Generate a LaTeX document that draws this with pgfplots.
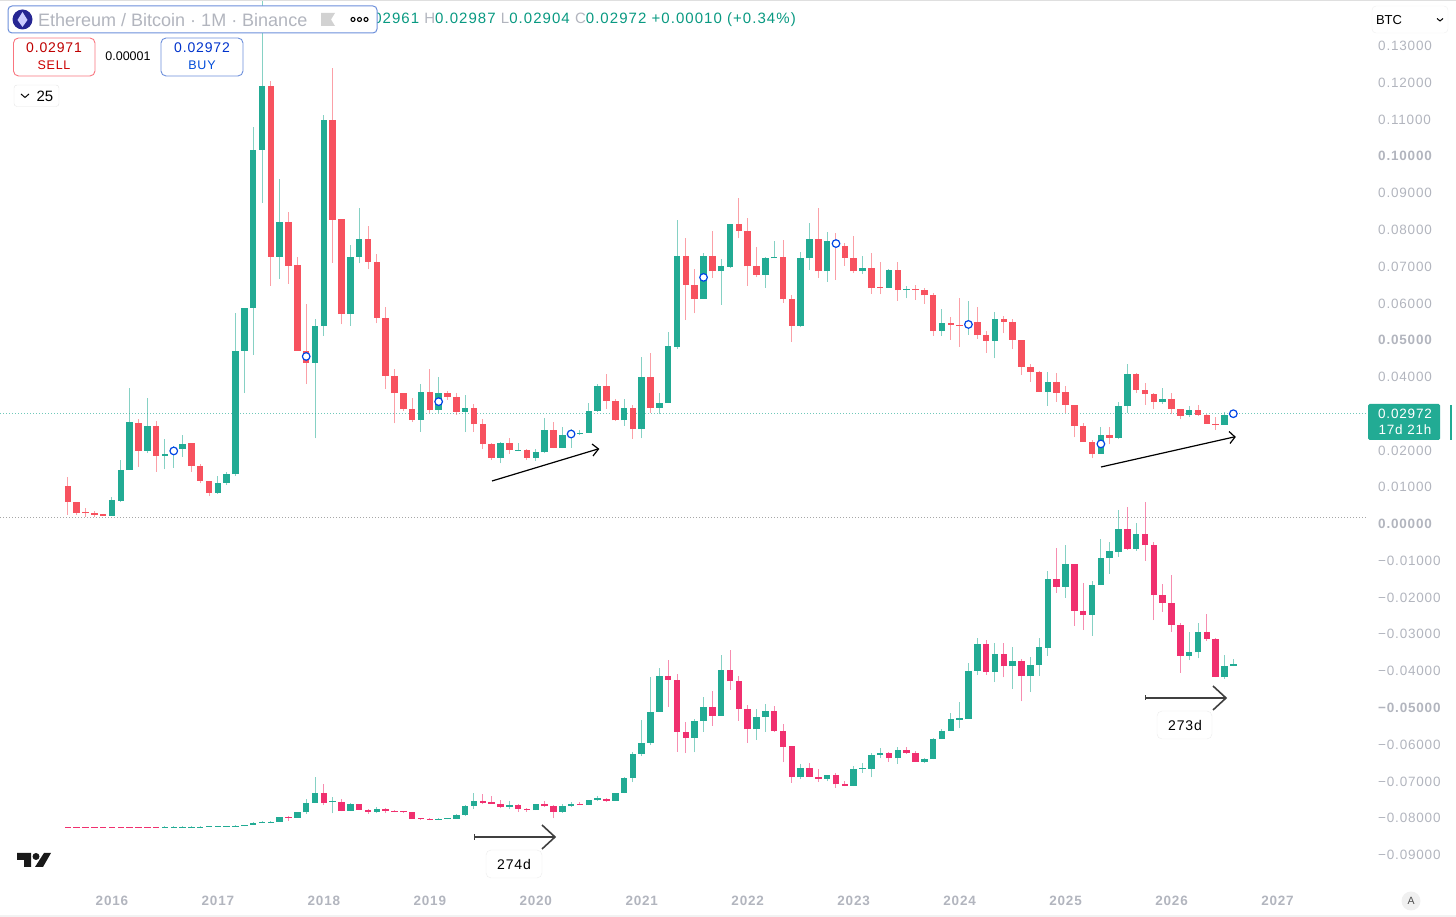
\documentclass[border=0pt]{standalone}
\usepackage{pgfplots}
\usepackage{pgfplotstable}
\usepackage{fontspec}
\pgfplotsset{compat=1.18}
\setmainfont{Liberation Sans}
\newfontfamily\spaced[LetterSpace=6]{Liberation Sans}
\newfontfamily\hdrspaced[LetterSpace=7]{Liberation Sans}
\definecolor{tvgreen}{HTML}{22AB94}
\definecolor{tvred}{HTML}{F7525F}
\definecolor{tvpink}{HTML}{F0306F}
\definecolor{tvgray}{HTML}{B2B5BE}
\definecolor{tvblue}{HTML}{2451C8}
\definecolor{hdrgreen}{HTML}{089981}
\definecolor{boxblue}{HTML}{6C8FDB}
% x = month index (0 = Aug 2015), top/bot = candle body, hi/lo = wick
\pgfplotstableread{
x top bot hi lo
5 .0063 .0020 .0072 .0020
6 .0144 .0061 .0171 .0057
7 .0274 .0144 .0366 .0144
9 .0265 .0197 .0339 .0190
11 .0188 .0183 .0228 .0146
12 .0196 .0190 .0209 .0150
13 .0216 .0202 .0239 .0180
17 .0110 .0082 .0128 .0079
18 .0133 .0110 .0139 .0103
19 .0468 .0133 .0572 .0128
20 .0584 .0468 .0584 .0353
21 .1015 .0586 .1078 .0457
22 .1189 .1015 .1567 .0870
24 .0818 .0724 .0936 .0663
28 .0536 .0436 .0554 .0230
29 .1095 .0536 .1110 .0509
32 .0724 .0568 .0756 .0537
33 .0772 .0724 .0858 .0706
40 .0356 .0281 .0377 .0248
42 .0353 .0307 .0398 .0300
45 .0312 .0303 .0348 .0247
49 .0218 .0177 .0220 .0162
51 .0199 .0197 .0217 .0195
53 .0192 .0177 .0200 .0169
54 .0254 .0192 .0285 .0190
56 .0239 .0205 .0260 .0203
57 .0244 .0239 .0256 .0205
58 .0246 .0244 .0253 .0240
59 .0305 .0246 .0327 .0245
60 .0373 .0305 .0378 .0303
63 .0312 .0279 .0336 .0264
65 .0396 .0255 .0451 .0230
67 .0326 .0314 .0353 .0296
68 .0481 .0326 .0519 .0326
69 .0726 .0480 .0824 .0474
72 .0727 .0609 .0734 .0609
74 .0698 .0684 .0718 .0593
75 .0813 .0697 .0813 .0693
79 .0720 .0675 .0724 .0640
80 .0724 .0720 .0767 .0720
83 .0720 .0537 .0738 .0532
84 .0773 .0720 .0817 .0688
86 .0767 .0684 .0792 .0656
90 .0693 .0684 .0726 .0677
93 .0688 .0640 .0691 .0640
95 .0636 .0635 .0645 .0611
99 .0543 .0523 .0582 .0509
102 .0547 .0536 .0605 .0512
105 .0556 .0496 .0573 .0448
111 .0383 .0356 .0410 .0319
117 .0239 .0188 .0260 .0188
119 .0319 .0232 .0330 .0228
120 .0405 .0319 .0432 .0298
124 .0337 .0329 .0368 .0323
127 .0307 .0294 .0318 .0288
131 .0295 .0267 .0302 .0267
132 .02972 .02961 .02987 .02904
}\upperUp
\pgfplotstableread{
x top bot hi lo
0 .0101 .0058 .0126 .0022
1 .0058 .0028 .0058 .0022
2 .0030 .0026 .0041 .0017
3 .0026 .0022 .0033 .0017
4 .0024 .0020 .0024 .0019
8 .0273 .0197 .0283 .0153
10 .0265 .0183 .0278 .0140
14 .0217 .0156 .0218 .0140
15 .0156 .0115 .0160 .0108
16 .0114 .0082 .0114 .0074
23 .1189 .0724 .1203 .0645
25 .0818 .0700 .0845 .0650
26 .0701 .0469 .0723 .0469
27 .0469 .0436 .0595 .0378
30 .1095 .0825 .1237 .0708
31 .0827 .0568 .0827 .0540
34 .0772 .0711 .0809 .0690
35 .0711 .0558 .0732 .0543
36 .0558 .0401 .0588 .0364
37 .0400 .0353 .0418 .0271
38 .0353 .0310 .0353 .0305
39 .0310 .0280 .0339 .0274
41 .0356 .0307 .0418 .0298
43 .0353 .0344 .0360 .0335
44 .0344 .0302 .0353 .0294
46 .0312 .0269 .0324 .0248
47 .0269 .0215 .0283 .0201
48 .0216 .0177 .0218 .0171
50 .0218 .0199 .0230 .0188
52 .0199 .0177 .0201 .0171
55 .0254 .0205 .0276 .0203
61 .0373 .0333 .0405 .0310
62 .0333 .0279 .0337 .0277
64 .0312 .0255 .0321 .0228
66 .0396 .0314 .0462 .0298
70 .0726 .0648 .0776 .0552
71 .0648 .0609 .0691 .0570
73 .0727 .0684 .0794 .0666
76 .0813 .0795 .0885 .0774
77 .0794 .0698 .0829 .0645
78 .0698 .0675 .0750 .0668
81 .0724 .0609 .0770 .0599
82 .0609 .0537 .0620 .0492
85 .0773 .0684 .0856 .0667
87 .0767 .0753 .0788 .0661
88 .0753 .0722 .0761 .0699
89 .0722 .0684 .0781 .0679
91 .0693 .0640 .0735 .0623
92 .0641 .0639 .0709 .0622
94 .0687 .0633 .0710 .0605
96 .0636 .0635 .0647 .0607
97 .0634 .0619 .0638 .0596
98 .0620 .0523 .0625 .0509
100 .0543 .0539 .0561 .0498
101 .0539 .0536 .0611 .0480
103 .0546 .0511 .0588 .0501
104 .0511 .0496 .0523 .0463
106 .0556 .0548 .0564 .0516
107 .0547 .0499 .0554 .0472
108 .0499 .0425 .0499 .0402
109 .0425 .0410 .0432 .0384
110 .0410 .0356 .0413 .0356
112 .0383 .0354 .0407 .0330
113 .0356 .0321 .0373 .0300
114 .0321 .0264 .0321 .0233
115 .0264 .0220 .0273 .0220
116 .0220 .0188 .0226 .0176
118 .0239 .0232 .0262 .0214
121 .0405 .0362 .0409 .0353
122 .0362 .0350 .0382 .0321
123 .0350 .0330 .0354 .0309
125 .0337 .0310 .0353 .0296
126 .0309 .0292 .0310 .0282
128 .0307 .0295 .0321 .0292
129 .0295 .0270 .0296 .0269
130 .0270 .0267 .0289 .0253
}\upperDown
\pgfplotstableread{
x top bot hi lo
11 -.0826 -.0828 -.0825 -.0829
12 -.0826 -.0828 -.0825 -.0829
13 -.0826 -.0828 -.0825 -.0829
14 -.0826 -.0828 -.0825 -.0829
15 -.0826 -.0828 -.0825 -.0829
16 -.0824 -.0826 -.0823 -.0827
17 -.0824 -.0826 -.0823 -.0827
18 -.0824 -.0826 -.0823 -.0827
19 -.0823 -.0825 -.0822 -.0826
20 -.0822 -.0824 -.0821 -.0825
21 -.0815 -.0821 -.0814 -.0822
22 -.0813 -.0814 -.0810 -.0816
23 -.0812 -.0814 -.0810 -.0817
24 -.0799 -.0812 -.0799 -.0812
26 -.0787 -.0802 -.0787 -.0802
27 -.0761 -.0787 -.0751 -.0792
28 -.0733 -.0761 -.0692 -.0762
30 -.0757 -.0759 -.0746 -.0790
32 -.0765 -.0783 -.0762 -.0784
35 -.0779 -.0786 -.0772 -.0789
42 -.0805 -.0807 -.0802 -.0808
43 -.0803 -.0805 -.0802 -.0806
44 -.0794 -.0804 -.0792 -.0805
45 -.0770 -.0794 -.0768 -.0796
46 -.0755 -.0770 -.0733 -.0779
50 -.0768 -.0772 -.0756 -.0779
53 -.0765 -.0781 -.0764 -.0781
56 -.0770 -.0786 -.0764 -.0788
57 -.0764 -.0770 -.0760 -.0772
59 -.0752 -.0767 -.0752 -.0768
60 -.0749 -.0752 -.0743 -.0756
62 -.0735 -.0755 -.0734 -.0756
63 -.0694 -.0734 -.0692 -.0735
64 -.0628 -.0693 -.0624 -.0705
65 -.0598 -.0628 -.0536 -.0635
66 -.0513 -.0598 -.0418 -.0604
67 -.0416 -.0513 -.0395 -.0513
71 -.0539 -.0585 -.0534 -.0624
72 -.0500 -.0539 -.0474 -.0568
74 -.0401 -.0524 -.0359 -.0524
78 -.0528 -.0561 -.0507 -.0590
79 -.0511 -.0528 -.0493 -.0568
83 -.0667 -.0692 -.0656 -.0697
86 -.0685 -.0696 -.0684 -.0703
89 -.0669 -.0715 -.0661 -.0716
90 -.0667 -.0669 -.0654 -.0679
91 -.0631 -.0668 -.0626 -.0692
92 -.0626 -.0631 -.0613 -.0640
94 -.0617 -.0640 -.0608 -.0656
97 -.0643 -.0649 -.0640 -.0652
98 -.0588 -.0642 -.0584 -.0643
99 -.0566 -.0588 -.0560 -.0588
100 -.0534 -.0566 -.0518 -.0567
101 -.0531 -.0535 -.0488 -.0558
102 -.0402 -.0532 -.0380 -.0533
103 -.0329 -.0402 -.0312 -.0413
105 -.0356 -.0404 -.0326 -.0433
107 -.0375 -.0390 -.0336 -.0452
109 -.0386 -.0417 -.0364 -.0460
110 -.0338 -.0386 -.0314 -.0415
111 -.0152 -.0339 -.0131 -.0361
113 -.0112 -.0173 -.0060 -.0203
116 -.0169 -.0250 -.0158 -.0307
117 -.0096 -.0169 -.0044 -.0169
118 -.0076 -.0096 -.0052 -.0138
119 -.0017 -.0078 .0035 -.0092
121 -.0029 -.0071 -.0001 -.0076
127 -.0352 -.0361 -.0297 -.0373
128 -.0296 -.0352 -.0273 -.0368
131 -.0390 -.0419 -.0359 -.0424
132 -.0384 -.0389 -.0371 -.0390
}\lowerUp
\pgfplotstableread{
x top bot hi lo
0 -.0827 -.0829 -.0826 -.0830
1 -.0827 -.0829 -.0826 -.0830
2 -.0827 -.0829 -.0826 -.0830
3 -.0827 -.0829 -.0826 -.0830
4 -.0827 -.0829 -.0826 -.0830
5 -.0827 -.0829 -.0826 -.0830
6 -.0827 -.0829 -.0826 -.0830
7 -.0827 -.0829 -.0826 -.0830
8 -.0827 -.0829 -.0826 -.0830
9 -.0827 -.0829 -.0826 -.0830
10 -.0827 -.0829 -.0826 -.0830
25 -.0799 -.0802 -.0797 -.0810
29 -.0733 -.0761 -.0711 -.0767
31 -.0759 -.0783 -.0750 -.0784
33 -.0765 -.0780 -.0764 -.0781
34 -.0780 -.0785 -.0777 -.0791
36 -.0778 -.0783 -.0776 -.0788
37 -.0783 -.0784 -.0780 -.0787
38 -.0784 -.0786 -.0783 -.0788
39 -.0786 -.0804 -.0785 -.0805
40 -.0803 -.0805 -.0802 -.0807
41 -.0805 -.0807 -.0803 -.0808
47 -.0755 -.0761 -.0737 -.0765
48 -.0760 -.0764 -.0743 -.0764
49 -.0764 -.0773 -.0753 -.0776
51 -.0767 -.0778 -.0765 -.0785
52 -.0778 -.0781 -.0774 -.0785
54 -.0765 -.0771 -.0756 -.0772
55 -.0770 -.0786 -.0767 -.0803
58 -.0764 -.0767 -.0758 -.0768
61 -.0750 -.0755 -.0747 -.0759
68 -.0416 -.0426 -.0373 -.0500
69 -.0426 -.0568 -.0411 -.0622
70 -.0569 -.0585 -.0540 -.0626
73 -.0500 -.0524 -.0457 -.0551
75 -.0401 -.0431 -.0345 -.0454
76 -.0431 -.0506 -.0415 -.0538
77 -.0507 -.0561 -.0494 -.0598
80 -.0511 -.0566 -.0498 -.0568
81 -.0566 -.0608 -.0548 -.0651
82 -.0607 -.0691 -.0607 -.0706
84 -.0667 -.0690 -.0654 -.0692
85 -.0690 -.0696 -.0670 -.0704
87 -.0686 -.0711 -.0679 -.0720
88 -.0710 -.0715 -.0701 -.0716
93 -.0626 -.0640 -.0622 -.0649
95 -.0617 -.0626 -.0608 -.0627
96 -.0626 -.0649 -.0619 -.0650
104 -.0329 -.0404 -.0318 -.0413
106 -.0356 -.0390 -.0326 -.0420
108 -.0375 -.0417 -.0371 -.0485
112 -.0152 -.0173 -.0069 -.0190
114 -.0112 -.0239 -.0112 -.0280
115 -.0239 -.0250 -.0162 -.0291
120 -.0017 -.0071 .0043 -.0073
122 -.0029 -.0060 .0056 -.0103
123 -.0060 -.0196 -.0051 -.0264
124 -.0196 -.0217 -.0166 -.0241
125 -.0217 -.0277 -.0141 -.0297
126 -.0277 -.0361 -.0273 -.0407
129 -.0296 -.0315 -.0248 -.0321
130 -.0315 -.0419 -.0313 -.0420
}\lowerDown
\newcommand{\candles}[2]{%
  \addplot[draw=none, mark=none, forget plot, error bars/.cd, y dir=plus, y explicit, error mark=none,
    error bar style={draw=#2, line width=1pt, opacity=.55}]
    table[x=x, y=lo, y error plus expr=\thisrow{hi}-\thisrow{lo}] {#1};
  \addplot[draw=none, mark=none, forget plot, error bars/.cd, y dir=plus, y explicit, error mark=none,
    error bar style={draw=#2, line width=6.5pt}]
    table[x=x, y=bot, y error plus expr=\thisrow{top}-\thisrow{bot}] {#1};
}
\begin{document}
\begin{tikzpicture}[x=1pt,y=1pt]
\useasboundingbox (0,0) rectangle (1456,917);
\begin{axis}[
  at={(0pt,32pt)}, anchor=south west,
  scale only axis, width=1368pt, height=885pt,
  xmin=-7.678, xmax=147.25, ymin=-0.09845, ymax=0.14224,
  axis line style={draw=none}, tick style={draw=none},
  axis y line*=right, axis x line*=bottom,
  xtick={5,17,29,41,53,65,77,89,101,113,125,137},
  xticklabels={2016,2017,2018,2019,2020,2021,2022,2023,2024,2025,2026,2027},
  xticklabel style={font=\spaced\bfseries\fontsize{13.5}{14}\selectfont, text=tvgray, yshift=-7.5pt},
  ytick={-0.09,-0.08,-0.07,-0.06,-0.05,-0.04,-0.03,-0.02,-0.01,0,0.01,0.02,0.04,0.05,0.06,0.07,0.08,0.09,0.10,0.11,0.12,0.13},
  yticklabels={−0.09000,−0.08000,−0.07000,−0.06000,{\bfseries −0.05000},−0.04000,−0.03000,−0.02000,−0.01000,{\bfseries 0.00000},0.01000,0.02000,0.04000,{\bfseries 0.05000},0.06000,0.07000,0.08000,0.09000,{\bfseries 0.10000},0.11000,0.12000,0.13000},
  yticklabel style={font=\spaced\fontsize{13.5}{14}\selectfont, text=tvgray, anchor=west, inner sep=0pt, xshift=10pt, yshift=-1pt},
  clip=true, tick align=outside, major tick length=0pt,
]
\addplot[forget plot, tvgreen!65, line width=1pt, dash pattern=on 1pt off 2pt] coordinates {(-7.678,0.02972) (147.25,0.02972)};
\addplot[forget plot, gray!70, line width=.8pt, dash pattern=on 1pt off 2pt] coordinates {(-7.678,0.0015) (147.25,0.0015)};
\candles{\upperUp}{tvgreen}
\candles{\upperDown}{tvred}
\candles{\lowerUp}{tvgreen}
\candles{\lowerDown}{tvpink}
\addplot[forget plot, only marks, mark=*, mark size=3.8pt, mark options={fill=white, draw=blue!70!cyan!90!black, line width=1.2pt}]
  coordinates {(12,0.0196) (27,0.0453) (42,0.0330) (57,0.0242) (72,0.0668) (87,0.0760) (102,0.0540) (117,0.0215) (132,0.02972)};
\end{axis}
\begin{scope}[shift={(0,917)},y=-1pt]
% frame lines
\draw[gray!25, line width=1.5pt] (0,0.5) -- (1456,0.5);
\draw[gray!10, line width=1.5pt] (0,916) -- (1456,916);
% OHLC header
\node[anchor=east, inner sep=0pt, font=\hdrspaced\fontsize{15}{15}\selectfont, text=hdrgreen] at (796,20)
  {{\color{tvgray}O}0.02961 {\color{tvgray}H}0.02987 {\color{tvgray}L}0.02904 {\color{tvgray}C}0.02972 +0.00010 (+0.34\%)};
% symbol box
\draw[boxblue, fill=white, rounded corners=4pt, line width=1pt] (8,6) rectangle (377,33);
\fill[blue!50!black!85!white] (22.5,19.5) circle (10);
\fill[white!80!blue] (22.5,12) -- (27.5,20) -- (22.5,27) -- (17.5,20) -- cycle;
\node[anchor=west, inner sep=0pt, text=tvgray, font=\fontsize{18}{18}\selectfont] at (38,20) {Ethereum / Bitcoin · 1M · Binance};
\fill[gray!35] (321,13) -- (335,13) -- (331,19.5) -- (335,26) -- (321,26) -- cycle;
\foreach \cx in {353,359.5,366} \draw[black, line width=1.1pt] (\cx,19.5) circle (2);
% sell / buy
\draw[tvred!80, fill=white, rounded corners=5pt, line width=.9pt] (13.5,38) rectangle (95,76);
\node[text=red!75!black, font=\spaced\fontsize{14}{14}\selectfont, inner sep=0pt] at (54,48) {0.02971};
\node[text=red!80!black, font=\spaced\fontsize{12.5}{13}\selectfont, inner sep=0pt] at (54,65) {SELL};
\node[font=\fontsize{12.5}{13}\selectfont, inner sep=0pt] at (128,56.5) {0.00001};
\draw[boxblue, fill=white, rounded corners=5pt, line width=.9pt] (161,38) rectangle (243,76);
\node[text=blue!75!cyan!80!black, font=\spaced\fontsize{14}{14}\selectfont, inner sep=0pt] at (202,48) {0.02972};
\node[text=blue!65!cyan!85!black, font=\spaced\fontsize{12.5}{13}\selectfont, inner sep=0pt] at (202,65) {BUY};
\draw[gray!20, fill=white, rounded corners=3pt] (14,85) rectangle (59,106.5);
\draw[black, line width=1pt] (21,94) -- (25,97.5) -- (29,94);
\node[font=\fontsize{15}{15}\selectfont, inner sep=0pt] at (45,96) {25};
% BTC selector
\draw[gray!12, fill=white, rounded corners=4pt] (1372,6) rectangle (1448,33);
\node[font=\fontsize{13}{13}\selectfont, inner sep=0pt] at (1389,20) {BTC};
\draw[black, line width=1pt] (1437,18.5) -- (1440,21) -- (1443,18.5);
% price tag
\fill[tvgreen, rounded corners=1.5pt] (1368,404) rectangle (1440,440);
\node[text=white, font=\spaced\fontsize{13.5}{14}\selectfont, inner sep=0pt] at (1405,414) {0.02972};
\node[text=white, font=\spaced\fontsize{13.5}{14}\selectfont, inner sep=0pt] at (1405,430) {17d 21h};
\draw[tvgreen, line width=2pt] (1451,405) -- (1451,440);
% auto button
\fill[gray!12] (1411,901) circle (9.5);
\node[font=\fontsize{10.5}{11}\selectfont, text=black!70, inner sep=0pt] at (1411,901) {A};
% TV logo
\fill[black!90] (17,853) -- (31,853) -- (31,867) -- (24,867) -- (24,860) -- (17,860) -- cycle;
\fill[black!90] (36,856.5) circle (3.5);
\fill[black!90] (44,853) -- (51,853) -- (43,867) -- (35,867) -- cycle;
% arrows
\draw[black, line width=1.2pt] (492,481) -- (598,449);
\draw[black, line width=1.2pt] (592,444) -- (598.5,449) -- (593,456);
\draw[black, line width=1.2pt] (1101,467) -- (1234,437);
\draw[black, line width=1.2pt] (1229,431.5) -- (1235,437) -- (1230,443.5);
\draw[black!75, line width=1.6pt] (474,837) -- (554,837);
\draw[black!75, line width=1.6pt] (474.5,834) -- (474.5,840);
\draw[black!75, line width=1.6pt] (542,825) -- (555,837) -- (542,849);
\draw[black!75, line width=1.6pt] (1145,698) -- (1225,698);
\draw[black!75, line width=1.6pt] (1145.5,695.5) -- (1145.5,700.5);
\draw[black!75, line width=1.6pt] (1213,686) -- (1226,698) -- (1213,710);
\draw[gray!15, fill=white, rounded corners=5pt] (486,850) rectangle (542,878);
\node[font=\spaced\fontsize{14}{14}\selectfont, inner sep=0pt] at (514,864.5) {274d};
\draw[gray!15, fill=white, rounded corners=5pt] (1157,711) rectangle (1212,739);
\node[font=\spaced\fontsize{14}{14}\selectfont, inner sep=0pt] at (1185,725.5) {273d};
\end{scope}
\end{tikzpicture}
\end{document}
